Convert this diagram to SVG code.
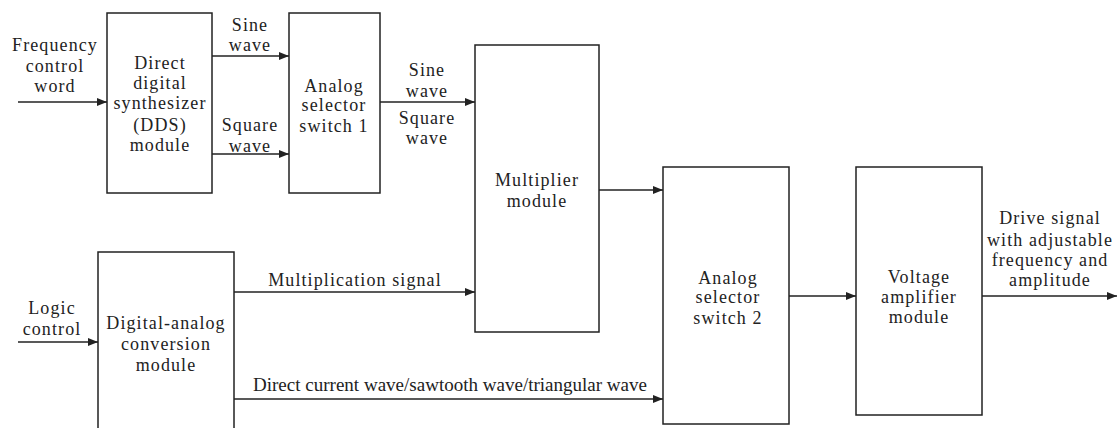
<svg xmlns="http://www.w3.org/2000/svg" width="1117" height="428" viewBox="0 0 1117 428">
<defs>
<marker id="ah" viewBox="0 0 10 8" refX="10" refY="4" markerWidth="10" markerHeight="8" markerUnits="userSpaceOnUse" orient="auto">
<path d="M0,0 L10,4 L0,8 Z" fill="#222"/>
</marker>
<style>
.box{fill:#fff;stroke:#222;stroke-width:1.5}
.t{font-family:"Liberation Serif","Times New Roman",serif;font-size:18px;fill:#222;text-anchor:middle;letter-spacing:1.1px}
.c{stroke:#222;stroke-width:1.5;fill:none;marker-end:url(#ah)}
</style>
</defs>
<rect width="1117" height="428" fill="#fff"/>
<g id="connectors">
<line class="c" x1="18" y1="102" x2="107" y2="102"/>
<line class="c" x1="212" y1="56" x2="289" y2="56"/>
<line class="c" x1="212" y1="154" x2="289" y2="154"/>
<line class="c" x1="380" y1="102" x2="475" y2="102"/>
<line class="c" x1="599" y1="190" x2="663" y2="190"/>
<line class="c" x1="18" y1="342" x2="98" y2="342"/>
<line class="c" x1="234" y1="292" x2="475" y2="292"/>
<line class="c" x1="234" y1="399" x2="663" y2="399"/>
<line class="c" x1="789" y1="296" x2="856" y2="296"/>
<line class="c" x1="982" y1="296" x2="1117" y2="296"/>
</g>
<g id="labels">
<text class="t" x="55" y="51">Frequency</text>
<text class="t" x="55" y="72">control</text>
<text class="t" x="55" y="92">word</text>
<text class="t" x="250" y="31">Sine</text>
<text class="t" x="250" y="51">wave</text>
<text class="t" x="250" y="131">Square</text>
<text class="t" x="250" y="152">wave</text>
<text class="t" x="427" y="76">Sine</text>
<text class="t" x="427" y="97">wave</text>
<text class="t" x="427" y="124">Square</text>
<text class="t" x="427" y="144">wave</text>
<text class="t" x="52" y="314">Logic</text>
<text class="t" x="52" y="335">control</text>
<text class="t" x="355" y="286">Multiplication signal</text>
<text class="t" x="450" y="391" textLength="394" lengthAdjust="spacingAndGlyphs" style="letter-spacing:0">Direct current wave/sawtooth wave/triangular wave</text>
<text class="t" x="1050" y="224">Drive signal</text>
<text class="t" x="1050" y="246">with adjustable</text>
<text class="t" x="1050" y="266">frequency and</text>
<text class="t" x="1050" y="286">amplitude</text>
</g>
<g id="dds">
<rect class="box" x="107" y="13" width="105" height="180"/>
<text class="t" x="160" y="69">Direct</text>
<text class="t" x="160" y="89">digital</text>
<text class="t" x="160" y="109">synthesizer</text>
<text class="t" x="160" y="131">(DDS)</text>
<text class="t" x="160" y="151">module</text>
</g>
<g id="switch1">
<rect class="box" x="289" y="13" width="91" height="180"/>
<text class="t" x="334" y="92">Analog</text>
<text class="t" x="334" y="111">selector</text>
<text class="t" x="334" y="132">switch 1</text>
</g>
<g id="multiplier">
<rect class="box" x="475" y="45" width="124" height="287"/>
<text class="t" x="537" y="186">Multiplier</text>
<text class="t" x="537" y="207">module</text>
</g>
<g id="dac">
<rect class="box" x="98" y="252" width="136" height="180"/>
<text class="t" x="166" y="329">Digital-analog</text>
<text class="t" x="166" y="350">conversion</text>
<text class="t" x="166" y="371">module</text>
</g>
<g id="switch2">
<rect class="box" x="663" y="167" width="126" height="257"/>
<text class="t" x="728" y="284">Analog</text>
<text class="t" x="728" y="303">selector</text>
<text class="t" x="728" y="324">switch 2</text>
</g>
<g id="amplifier">
<rect class="box" x="856" y="167" width="126" height="248"/>
<text class="t" x="919" y="283">Voltage</text>
<text class="t" x="919" y="303">amplifier</text>
<text class="t" x="919" y="323">module</text>
</g>
</svg>
